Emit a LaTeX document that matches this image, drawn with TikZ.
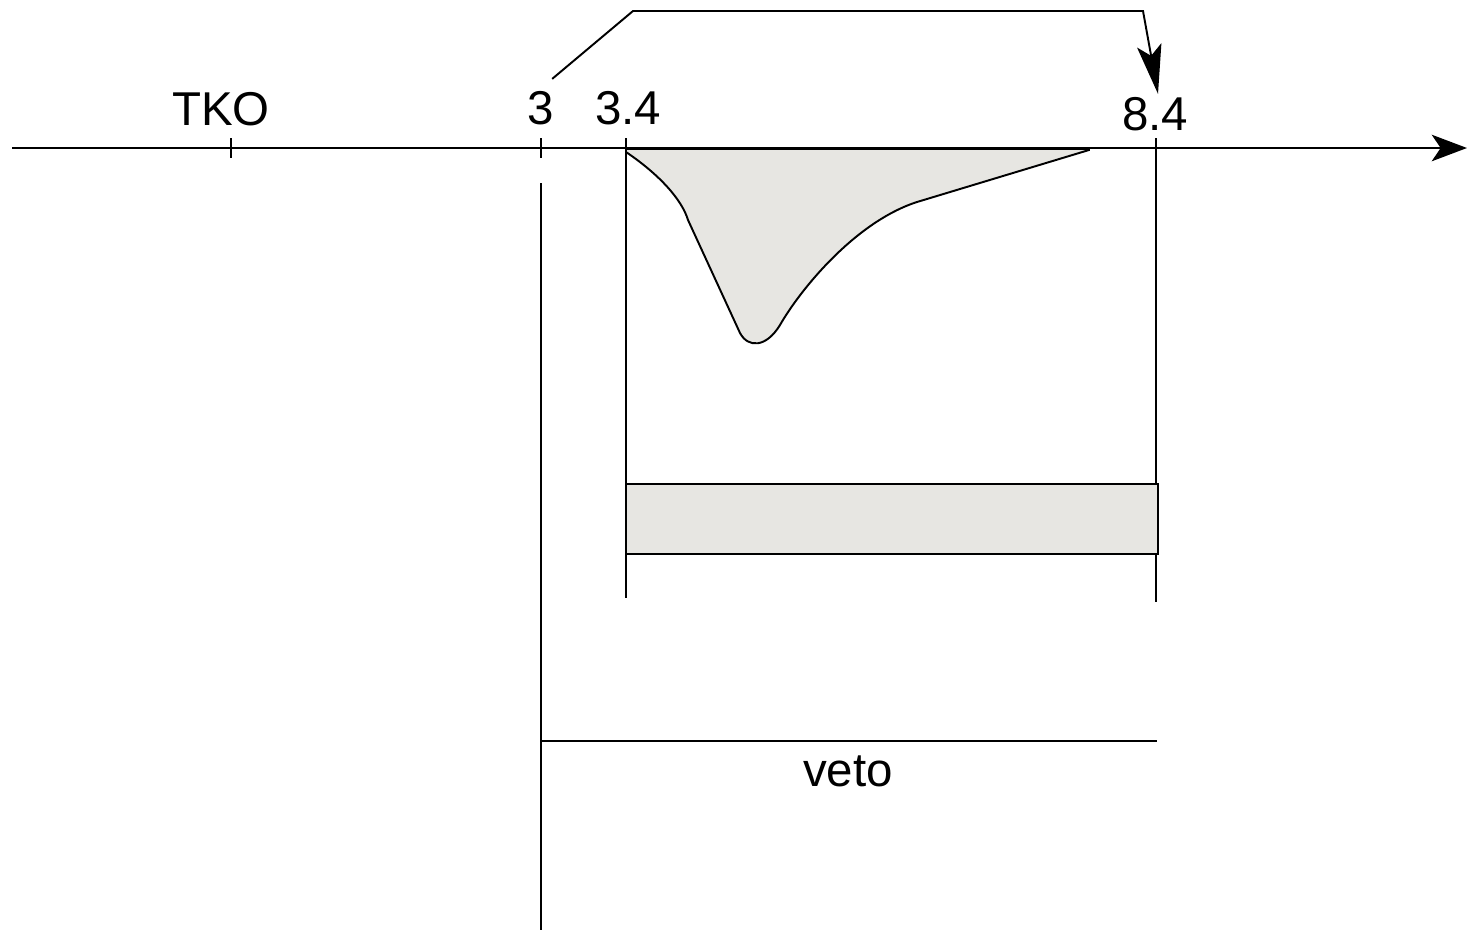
\documentclass[tikz,border=0pt]{standalone}
\usepackage{fontspec}
\setmainfont{Liberation Sans}
\usetikzlibrary{arrows.meta,positioning,calc}
\definecolor{pulsegray}{RGB}{231,230,226}

\begin{document}
\begin{tikzpicture}[x=0.01cm, y=-0.01cm, line width=0.55pt,
    lbl/.style={font=\fontsize{13.5}{16}\selectfont, inner sep=0pt, anchor=base}]
    \useasboundingbox (0,0) rectangle (1467,930);

    % Tick positions on the time axis
    \foreach \x/\n in {231/tko, 541/t3, 626/t34, 1156/t84}
        \coordinate (\n) at (\x,148);

    % Pulse (filled)
    \draw[fill=pulsegray] (626,149) -- (626,152)
        .. controls (660,175) and (682,200) .. (688,220)
        -- (740,333) .. controls (748,348) and (766,348) .. (780,325)
        .. controls (800,290) and (855,222) .. (917,202)
        -- (1089,150) -- (1089,149) -- cycle;

    % Time axis
    \draw[line width=0.8pt, -{Stealth[length=10pt, width=7.5pt, inset=2.5pt]}] (12,148) -- (1467,148);
    \foreach \n in {tko, t3, t34, t84}
        \draw (\n) ++(0,-10) -- ++(0,20);

    % Labels
    \node[lbl] (ltko) at (221,125) {TKO};
    \node[lbl] (l3) at (541,124) {3};
    \node[lbl] (l34) at (628,124) {3.4};
    \node[lbl] (l84) at (1155,130) {8.4};

    % Vertical markers
    \draw (541,183) -- (541,930);
    \draw (t34) -- (626,598);
    \draw (t84) -- (1156,602);

    % Gate bar
    \draw[fill=pulsegray, line width=0.7pt] (626,484) rectangle (1158,554);

    % Veto window
    \draw (541,741) -- (1157,741);
    \node[lbl] (veto) at (848,786) {veto};

    % Delay arrow
    \draw[-{Stealth[length=14pt, width=7pt, inset=3pt]}]
        ($(l3.north east)+(-3,-11)$) -- (633,11) -- (1143,11) -- ($(l84.north)+(3,-2)$);
\end{tikzpicture}
\end{document}
